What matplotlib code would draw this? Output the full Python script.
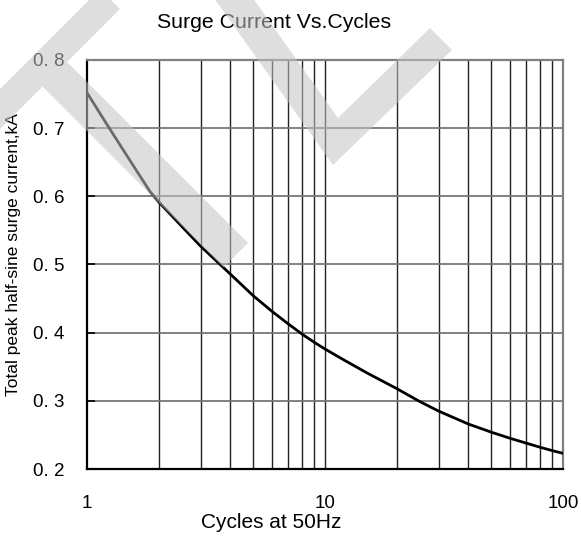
import numpy as np
import matplotlib.pyplot as plt
from matplotlib.patches import Polygon
from matplotlib.ticker import FixedLocator, NullFormatter

plt.rcParams['font.family'] = ['Liberation Sans', 'DejaVu Sans']

# values
cycles = [1, 1.2, 1.5, 1.84, 2, 2.5, 3, 4, 5, 6, 7, 8, 9, 10, 12, 15, 20, 25, 30, 40, 50, 60, 70, 80, 90, 100]
current_ka = [0.752, 0.708, 0.655, 0.607, 0.592, 0.556, 0.527, 0.486, 0.454, 0.431, 0.413, 0.398, 0.386, 0.376,
              0.360, 0.341, 0.318, 0.299, 0.285, 0.266, 0.254, 0.245, 0.238, 0.232, 0.227, 0.223]

y_ticks = [0.2, 0.3, 0.4, 0.5, 0.6, 0.7, 0.8]
y_tick_labels = ['0. 2', '0. 3', '0. 4', '0. 5', '0. 6', '0. 7', '0. 8']
x_ticks = [1, 10, 100]
x_tick_labels = ['1', '10', '100']

W, H = 581, 536
fig = plt.figure(figsize=(W / 100, H / 100), dpi=100)
ax = fig.add_axes([87 / W, 1 - 469 / H, (563 - 87) / W, (469 - 60) / H])

ax.set_xscale('log')
ax.set_xlim(1, 100)
ax.set_ylim(0.2, 0.8)

# grid: every integer cycle vertically, every 0.1 kA horizontally
vlines = list(range(2, 10)) + list(range(10, 100, 10))
for v in vlines:
    ax.axvline(v, color='#222222', lw=1.0, zorder=1)
for h in y_ticks[1:-1]:
    ax.axhline(h, color='#777777', lw=1.3, zorder=1)

ax.plot(cycles, current_ka, color='black', lw=2.0, zorder=3)

ax.xaxis.set_major_locator(FixedLocator(x_ticks))
ax.xaxis.set_minor_formatter(NullFormatter())
ax.set_xticklabels(x_tick_labels)
ax.set_yticks(y_ticks)
ax.set_yticklabels(y_tick_labels)
ax.tick_params(axis='x', which='both', length=0, pad=19, labelsize=13.5)
ax.tick_params(axis='y', direction='in', length=6, width=1.2, pad=16, labelsize=13.5)

for s in ['left', 'bottom']:
    ax.spines[s].set_color('black')
    ax.spines[s].set_linewidth(1.6)
for s in ['top', 'right']:
    ax.spines[s].set_color('#808080')
    ax.spines[s].set_linewidth(1.6)

fig.text(274 / W, 1 - 22 / H, 'Surge Current Vs.Cycles', ha='center', va='center', fontsize=15.3)
fig.text(271 / W, 1 - 522 / H, 'Cycles at 50Hz', ha='center', va='center', fontsize=15)
fig.text(14 / W, 1 - 255 / H, 'Total peak half-sine surge current,kA', ha='center', va='center',
         rotation=90, fontsize=12.5)

# light watermark shapes lying over the chart (pixel coords)
wm_t = [(-60, 149), (100, -11), (120, 9), (67, 62), (248, 243), (223.5, 267.5), (42.5, 86.5), (-60, 189)]
wm_check = [(201, -20), (240, -20), (338, 118), (430, 28), (452, 50), (333, 165)]
for shape in [wm_t, wm_check]:
    pts = [(x / W, 1 - y / H) for x, y in shape]
    fig.patches.append(Polygon(pts, closed=True, transform=fig.transFigure, facecolor='#c4c4c4',
                               edgecolor='none', alpha=0.55, zorder=10))

plt.savefig('out.png', dpi=100)
